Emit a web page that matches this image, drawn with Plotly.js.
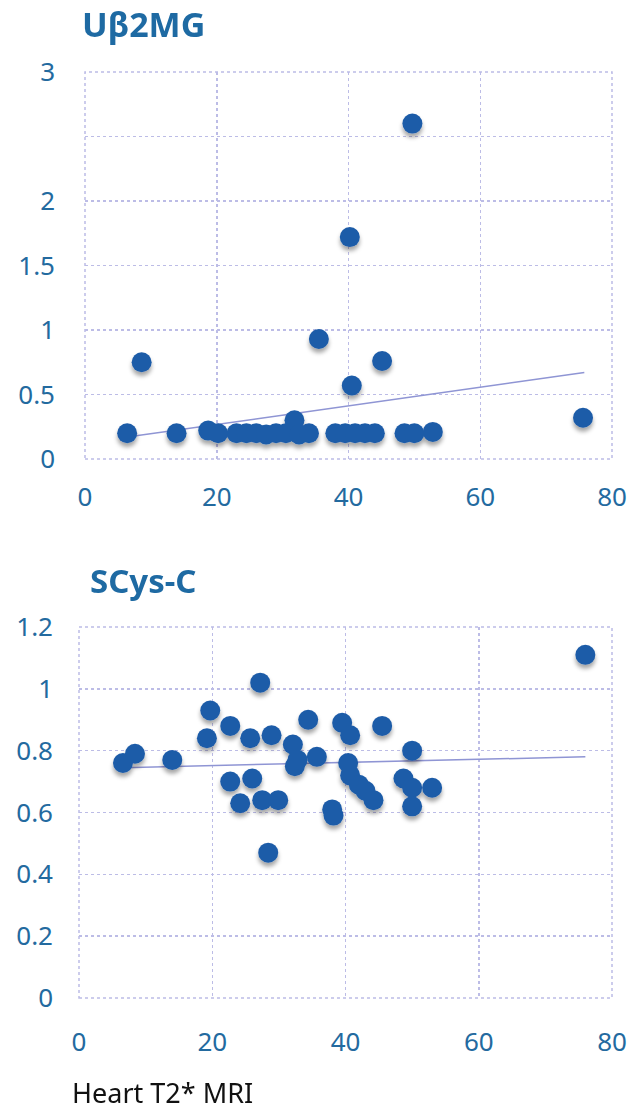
<!DOCTYPE html>
<html>
<head>
<meta charset="utf-8">
<script src="https://cdn.plot.ly/plotly-3.0.1.min.js"></script>
<style>
html,body{margin:0;padding:0;background:#fff;}
#chart{width:639px;height:1110px;}
</style>
</head>
<body>
<div id="chart"></div>
<script>
// Top panel: Uβ2MG vs Heart T2* MRI
const u2mgX = [6.4, 8.6, 13.9, 18.7, 20.2, 23, 24.5, 26, 27.5, 29, 30.5, 31.8, 32.5, 34, 35.5, 38, 39.5, 40.2, 40.5, 41, 42.5, 44, 45.1, 48.5, 50, 49.7, 52.8, 75.6];
const u2mgY = [0.2, 0.75, 0.2, 0.22, 0.2, 0.2, 0.2, 0.2, 0.19, 0.2, 0.2, 0.3, 0.19, 0.2, 0.93, 0.2, 0.2, 1.72, 0.57, 0.2, 0.2, 0.2, 0.76, 0.2, 0.2, 2.6, 0.21, 0.32];
const u2mgTrendX = [6.4, 75.8];
const u2mgTrendY = [0.17, 0.67];

// Bottom panel: SCys-C vs Heart T2* MRI
const scysX = [6.6, 8.4, 14, 19.2, 19.7, 22.7, 22.7, 24.2, 25.7, 26, 27.2, 27.5, 28.4, 28.9, 29.9, 32.1, 32.4, 32.8, 34.4, 35.7, 38, 38.2, 39.5, 40.7, 40.4, 40.7, 42, 43, 44.2, 45.5, 48.7, 50, 50, 50, 53, 76];
const scysY = [0.76, 0.79, 0.77, 0.84, 0.93, 0.88, 0.70, 0.63, 0.84, 0.71, 1.02, 0.64, 0.47, 0.85, 0.64, 0.82, 0.75, 0.77, 0.90, 0.78, 0.61, 0.59, 0.89, 0.85, 0.76, 0.72, 0.69, 0.67, 0.64, 0.88, 0.71, 0.80, 0.68, 0.62, 0.68, 1.11];
const scysTrendX = [6.6, 76];
const scysTrendY = [0.745, 0.78];

const xTicks = [0, 20, 40, 60, 80];
const u2mgTicks = [0, 0.5, 1, 1.5, 2, 2.5, 3];
const u2mgTickText = ['0', '0.5', '1', '1.5', '2', '', '3'];
const scysTicks = [0, 0.2, 0.4, 0.6, 0.8, 1, 1.2];
const scysTickText = ['0', '0.2', '0.4', '0.6', '0.8', '1', '1.2'];

const titles = ['Uβ2MG', 'SCys-C'];
const xLabel = 'Heart T2* MRI';

const BLUE = '#1f5ca8';
const TICKBLUE = '#236a9f';
const GRID = '#bcbce6';
const FONT = 'Noto Sans, DejaVu Sans, sans-serif';

const markerStyle = {color: BLUE, size: 20, line: {width: 0}};
const trendStyle = {color: '#8f95d4', width: 1.5};

const data = [
  {x: u2mgTrendX, y: u2mgTrendY, mode: 'lines', line: trendStyle, xaxis: 'x', yaxis: 'y', hoverinfo: 'skip'},
  {x: u2mgX, y: u2mgY, mode: 'markers', marker: markerStyle, xaxis: 'x', yaxis: 'y', cliponaxis: false},
  {x: scysTrendX, y: scysTrendY, mode: 'lines', line: trendStyle, xaxis: 'x2', yaxis: 'y2', hoverinfo: 'skip'},
  {x: scysX, y: scysY, mode: 'markers', marker: markerStyle, xaxis: 'x2', yaxis: 'y2', cliponaxis: false}
];

function xAxis(domain, anchor, standoff) {
  return {
    domain: domain, anchor: anchor, range: [0, 80], tickvals: xTicks, ticktext: xTicks.map(String),
    showgrid: true, gridcolor: GRID, griddash: 'dot', gridwidth: 1.5,
    zeroline: false, showline: false, ticks: '', ticklabelstandoff: standoff,
    tickfont: {family: FONT, size: 26, color: TICKBLUE}, fixedrange: true
  };
}
function yAxis(domain, anchor, range, vals, text, standoff) {
  return {
    domain: domain, anchor: anchor, range: range, tickvals: vals, ticktext: text,
    showgrid: true, gridcolor: GRID, griddash: 'dot', gridwidth: 1.5,
    zeroline: false, showline: false, ticks: '', ticklabelstandoff: standoff,
    tickfont: {family: FONT, size: 26, color: TICKBLUE}, fixedrange: true
  };
}

const layout = {
  width: 639, height: 1110,
  margin: {l: 0, r: 0, t: 0, b: 0},
  paper_bgcolor: '#ffffff', plot_bgcolor: '#ffffff',
  showlegend: false,
  xaxis: xAxis([85/639, 612/639], 'y', 20),
  yaxis: yAxis([1 - 459/1110, 1 - 72/1110], 'x', [0, 3], u2mgTicks, u2mgTickText, 29),
  xaxis2: xAxis([79/639, 612/639], 'y2', 26),
  yaxis2: yAxis([1 - 998/1110, 1 - 627/1110], 'x2', [0, 1.2], scysTicks, scysTickText, 25),
  shapes: [
    {type: 'rect', xref: 'x domain', yref: 'y domain', x0: 0, x1: 1, y0: 0, y1: 1, line: {color: GRID, width: 1.5, dash: 'dot'}},
    {type: 'rect', xref: 'x2 domain', yref: 'y2 domain', x0: 0, x1: 1, y0: 0, y1: 1, line: {color: GRID, width: 1.5, dash: 'dot'}}
  ],
  annotations: [
    {text: '<b>' + titles[0] + '</b>', xref: 'paper', yref: 'paper', x: 80/639, y: 1 - 24/1110, xanchor: 'left', yanchor: 'middle', showarrow: false, font: {family: FONT, size: 34, color: '#1e6aa3'}},
    {text: '<b>' + titles[1] + '</b>', xref: 'paper', yref: 'paper', x: 88/639, y: 1 - 580/1110, xanchor: 'left', yanchor: 'middle', showarrow: false, font: {family: FONT, size: 33, color: '#1e6aa3'}},
    {text: xLabel, xref: 'paper', yref: 'paper', x: 70/639, y: 1 - 1092/1110, xanchor: 'left', yanchor: 'middle', showarrow: false, font: {family: FONT, size: 27, color: '#111111'}}
  ]
};

Plotly.newPlot('chart', data, layout, {staticPlot: true, displayModeBar: false}).then(function (gd) {
  // soft grey shadow under the markers, as in the reference
  const svg = gd.querySelector('svg.main-svg');
  const ns = 'http://www.w3.org/2000/svg';
  let defs = svg.querySelector('defs');
  if (!defs) { defs = document.createElementNS(ns, 'defs'); svg.insertBefore(defs, svg.firstChild); }
  const f = document.createElementNS(ns, 'filter');
  f.setAttribute('id', 'mkshadow');
  f.setAttribute('x', '-50%'); f.setAttribute('y', '-50%');
  f.setAttribute('width', '200%'); f.setAttribute('height', '200%');
  const ds = document.createElementNS(ns, 'feDropShadow');
  ds.setAttribute('dx', '0'); ds.setAttribute('dy', '4');
  ds.setAttribute('stdDeviation', '2');
  ds.setAttribute('flood-color', '#000'); ds.setAttribute('flood-opacity', '0.35');
  f.appendChild(ds);
  defs.appendChild(f);
  gd.querySelectorAll('.scatterlayer .points').forEach(function (g) { g.setAttribute('filter', 'url(#mkshadow)'); });
});
</script>
</body>
</html>
